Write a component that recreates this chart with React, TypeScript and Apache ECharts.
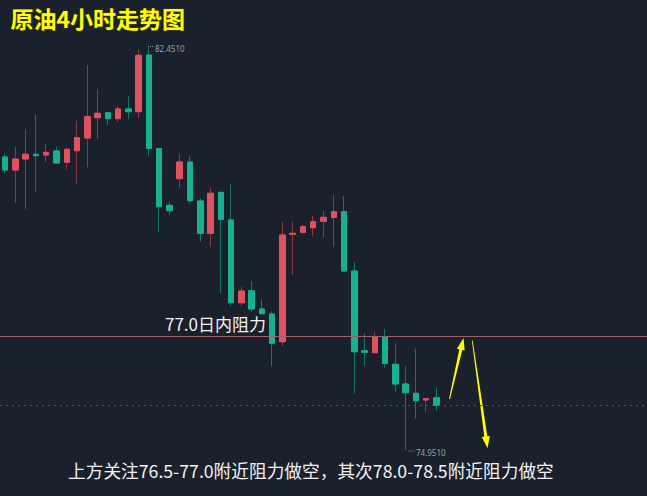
import React, { useEffect, useRef } from "react";
import * as echarts from "echarts";

// Candles (4h): [open, close, low, high]
const opens = [80.404, 80.162, 80.366, 80.454, 80.441, 80.515, 80.305, 80.521, 80.756, 81.133, 81.226, 81.115, 81.295, 81.245, 82.297, 80.558, 79.507, 80.001, 80.311, 79.587, 78.987, 79.748, 79.234, 77.699, 77.922, 77.582, 77.489, 76.975, 78.969, 79.006, 79.091, 79.21, 79.281, 79.388, 78.287, 76.808, 76.771, 77.068, 76.555, 76.19, 76.017, 75.893, 75.935];
const closes = [80.162, 80.366, 80.454, 80.428, 80.491, 80.292, 80.547, 80.762, 81.152, 81.215, 81.115, 81.295, 81.245, 82.291, 80.565, 79.481, 79.407, 80.311, 79.592, 78.987, 79.73, 79.247, 77.699, 77.916, 77.582, 77.495, 76.945, 78.956, 78.987, 79.11, 79.203, 79.284, 79.388, 78.287, 76.789, 76.778, 77.068, 76.574, 76.19, 76.028, 75.88, 75.917, 75.794];
const lows = [80.107, 79.555, 79.433, 79.759, 80.311, 80.274, 80.175, 79.902, 80.212, 80.743, 80.998, 81.053, 81.103, 81.128, 80.428, 79.011, 79.327, 79.834, 79.544, 78.831, 78.738, 77.873, 77.638, 77.638, 77.532, 77.495, 76.524, 76.895, 78.213, 78.969, 78.943, 78.906, 78.738, 78.274, 76.017, 76.524, 76.771, 76.492, 76.047, 74.951, 75.553, 75.676, 75.694];
const highs = [80.459, 80.595, 80.923, 81.196, 80.645, 80.595, 80.565, 81.077, 82.111, 81.666, 81.239, 81.345, 81.53, 82.403, 82.451, 80.558, 79.568, 80.459, 80.417, 79.637, 79.823, 79.748, 79.897, 77.996, 78.102, 77.762, 77.532, 79.203, 79.203, 79.154, 79.308, 79.401, 79.698, 79.68, 78.46, 77.131, 77.149, 77.211, 76.945, 76.524, 76.845, 75.917, 76.128];

const totalSlots = 63; // category slots incl. empty space on the right
const resistance = 77.08;
const lastPrice = 75.794;
const highLabel = "82.4510";
const lowLabel = "74.9510";
const title = "原油4小时走势图";
const resistanceText = "77.0日内阻力";
const bottomText = "上方关注76.5-77.0附近阻力做空，其次78.0-78.5附近阻力做空";

const UP = "#e0525e";
const DOWN = "#19b092";
const UP_WICK = "#8c3a47";
const DOWN_WICK = "#12796a";

export default function App() {
  const ref = useRef<HTMLDivElement>(null);
  useEffect(() => {
    if (!ref.current) return;
    const chart = echarts.init(ref.current, undefined, { renderer: "svg" });
    const categories = Array.from({ length: totalSlots }, (_, i) => String(i));
    const full = opens.map((o, i) => [o, closes[i], lows[i], highs[i]]);
    const bodies = opens.map((o, i) => [o, closes[i], Math.min(o, closes[i]), Math.max(o, closes[i])]);
    const yellowArrow1 = [[449.0, 398.9], [459.3, 349.4], [456.9, 348.8], [463.5, 338], [464.7, 350.6], [462.3, 350.0], [450.0, 399.1]];
    const yellowArrow2 = [[471.9, 340.8], [484.3, 436.6], [481.8, 437.0], [487.5, 448.3], [489.8, 435.9], [487.3, 436.2], [472.7, 340.6]];
    chart.setOption({
      animation: false,
      backgroundColor: "#1a202c",
      grid: { left: -3.5, top: 0, width: totalSlots * 10.42, height: 496 },
      xAxis: { type: "category", data: categories, show: false, boundaryGap: true },
      yAxis: { type: "value", min: 74.111, max: 83.318, show: false, splitLine: { show: false } },
      series: [
        {
          type: "candlestick",
          data: full,
          barWidth: 6,
          itemStyle: { color: UP_WICK, color0: DOWN_WICK, borderColor: UP_WICK, borderColor0: DOWN_WICK, borderWidth: 1 },
          silent: true,
          z: 2,
        },
        {
          type: "candlestick",
          data: bodies,
          barWidth: 6,
          itemStyle: { color: UP, color0: DOWN, borderColor: UP, borderColor0: DOWN, borderWidth: 1 },
          silent: true,
          z: 3,
          markLine: {
            silent: true,
            symbol: "none",
            label: { show: false },
            data: [
              { yAxis: resistance, lineStyle: { color: "#a55d6a", width: 1.2, type: "solid" } },
              { yAxis: lastPrice, lineStyle: { color: "#22665d", width: 1, type: [2, 4] } },
            ],
          },
        },
      ],
      graphic: [
        {
          type: "text", left: 10, top: 6,
          style: { text: title, fill: "#ffff00", font: "bold 23px 'Noto Sans CJK SC'", stroke: "#3a3a10", lineWidth: 1 },
        },
        { type: "line", shape: { x1: 148, y1: 46.5, x2: 154, y2: 46.5 }, style: { stroke: "#8a909a", lineWidth: 1, lineDash: [1, 1] } },
        { type: "text", left: 155, top: 44, style: { text: highLabel, fill: "#9aa0aa", font: "8px 'Noto Sans'" } },
        { type: "line", shape: { x1: 408.5, y1: 451, x2: 415, y2: 451 }, style: { stroke: "#8a909a", lineWidth: 1, lineDash: [1, 1] } },
        { type: "text", left: 416, top: 448, style: { text: lowLabel, fill: "#9aa0aa", font: "8px 'Noto Sans'" } },
        {
          type: "text", left: 165, top: 315,
          style: { text: resistanceText, fill: "#f2f2f2", font: "17px 'Noto Sans CJK SC'" },
        },
        {
          type: "text", left: 68, top: 461,
          style: { text: bottomText, fill: "#f2f2f2", font: "17.7px 'Noto Sans CJK SC'" },
        },
        { type: "polygon", shape: { points: yellowArrow1 }, style: { fill: "#ffff00" } },
        { type: "polygon", shape: { points: yellowArrow2 }, style: { fill: "#ffff00" } },
      ],
    });
    return () => chart.dispose();
  }, []);
  return <div ref={ref} style={{ position: "fixed", left: 0, top: 0, width: 647, height: 496 }} />;
}
